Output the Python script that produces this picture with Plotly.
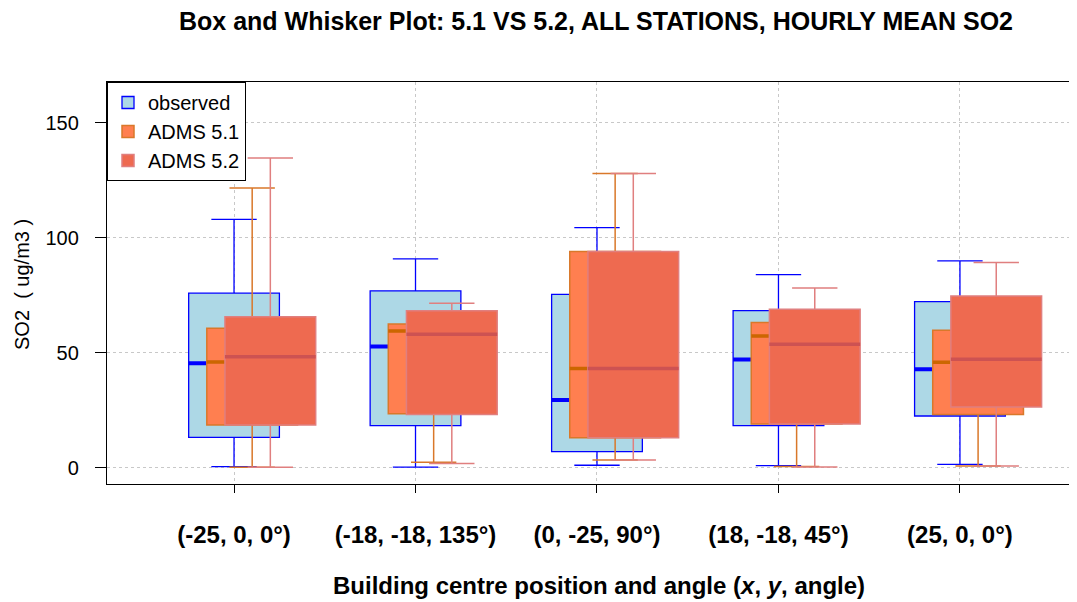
import plotly.graph_objects as go

categories = ["(-25, 0, 0°)", "(-18, -18, 135°)", "(0, -25, 90°)", "(18, -18, 45°)", "(25, 0, 0°)"]

obs_lower = [0.6, 0.4, 1.2, 1.0, 1.6]
obs_q1 = [13.3, 18.4, 7.1, 18.4, 22.6]
obs_median = [45.5, 52.8, 29.6, 47.2, 42.9]
obs_q3 = [76.0, 77.0, 75.5, 68.4, 72.3]
obs_upper = [108.1, 90.9, 104.5, 84.1, 90.0]

a51_lower = [0.3, 2.5, 3.5, 0.6, 0.9]
a51_q1 = [18.7, 23.6, 13.2, 19.1, 23.3]
a51_median = [46.1, 59.6, 43.2, 57.4, 46.0]
a51_q3 = [60.7, 62.6, 94.1, 63.3, 59.9]
a51_upper = [121.7, 67.0, 128.0, 67.0, 70.0]

a52_lower = [0.3, 1.9, 3.5, 0.4, 0.9]
a52_q1 = [18.7, 23.2, 13.2, 19.1, 26.5]
a52_median = [48.4, 58.1, 43.2, 53.8, 47.3]
a52_q3 = [65.8, 68.4, 94.1, 69.0, 74.8]
a52_upper = [134.8, 71.6, 128.0, 78.3, 89.3]

series = [
    ("observed", obs_lower, obs_q1, obs_median, obs_q3, obs_upper,
     0.0, "#ADD8E6", "#0000FF", "#0000FF", 1.3, 4),
    ("ADMS 5.1", a51_lower, a51_q1, a51_median, a51_q3, a51_upper,
     0.1, "#FF7F50", "#D9782A", "#CC6600", 1.5, 3.5),
    ("ADMS 5.2", a52_lower, a52_q1, a52_median, a52_q3, a52_upper,
     0.2, "#EE6A50", "#E07F7F", "#CD5252", 1.5, 3.5),
]

FONT = "Liberation Sans, Arial, sans-serif"
BOXW = 0.5
W, H = 1069, 594  # page body adds an 8px offset

fig = go.Figure()
for name, lo, q1, med, q3, up, off, fill, lc, mc, lw, mw in series:
    xs = [i + 1 + off for i in range(len(categories))]
    fig.add_trace(go.Box(
        name=name, x=xs, q1=q1, median=med, q3=q3,
        lowerfence=lo, upperfence=up,
        width=BOXW, whiskerwidth=0.5,
        fillcolor=fill, line=dict(color=lc, width=lw),
        boxpoints=False, showlegend=True, hoverinfo="skip",
    ))
    # thick median line drawn as a degenerate box
    fig.add_trace(go.Box(
        name=name + " median", x=xs, q1=med, median=med, q3=med,
        lowerfence=med, upperfence=med,
        width=BOXW, whiskerwidth=0,
        fillcolor=mc, line=dict(color=mc, width=mw),
        boxpoints=False, showlegend=False, hoverinfo="skip",
    ))

fig.update_layout(
    width=W, height=H,
    paper_bgcolor="white", plot_bgcolor="white",
    boxmode="overlay",
    margin=dict(l=99, r=0, t=74, b=118),
    font=dict(family=FONT, color="black"),
    title=dict(
        text="Box and Whisker Plot: 5.1 VS 5.2, ALL STATIONS, HOURLY MEAN SO2",
        font=dict(family=FONT, size=25, color="black", weight="bold"),
        x=588 / W, xanchor="center", xref="container",
        y=1, yanchor="top", yref="container", pad=dict(t=4, b=0),
    ),
    legend=dict(
        x=0, y=1, xanchor="left", yanchor="top",
        bgcolor="white", bordercolor="black", borderwidth=1,
        font=dict(family=FONT, size=20, color="black"),
    ),
    showlegend=True,
)

fig.update_xaxes(
    range=[0.30, 5.645],
    tickmode="array", tickvals=[1, 2, 3, 4, 5], ticktext=categories,
    tickfont=dict(family=FONT, size=24, color="black", weight="bold"),
    ticks="outside", ticklen=8, tickcolor="black", tickwidth=1,
    ticklabelstandoff=21,
    showline=True, linecolor="black", linewidth=1.3, mirror=True,
    showgrid=True, gridcolor="#C8C8C8", griddash="dot", gridwidth=1,
    zeroline=False,
)
fig.update_yaxes(
    range=[-6.96, 167.8],
    tickmode="array", tickvals=[0, 50, 100, 150], ticktext=["0", "50", "100", "150"],
    tickfont=dict(family=FONT, size=20, color="black"),
    ticks="outside", ticklen=11, tickcolor="black", tickwidth=1,
    ticklabelstandoff=12,
    showline=True, linecolor="black", linewidth=1.3, mirror=False,
    showgrid=True, gridcolor="#C8C8C8", griddash="dot", gridwidth=1,
    zeroline=False,
)

fig.add_annotation(
    text="<b>Building centre position and angle (<i>x</i>, <i>y</i>, angle)</b>",
    xref="paper", yref="paper", x=(599 - 107) / 970, y=(484 - 585) / 402,
    xanchor="center", yanchor="middle", showarrow=False,
    font=dict(family=FONT, size=24, color="black"),
)
fig.add_annotation(
    text="SO2  ( ug/m3 )",
    xref="paper", yref="paper", x=(22 - 107) / 970, y=(484 - 285) / 402,
    xanchor="center", yanchor="middle", showarrow=False, textangle=-90,
    font=dict(family=FONT, size=20, color="black"),
)

fig.write_html("out.html")
